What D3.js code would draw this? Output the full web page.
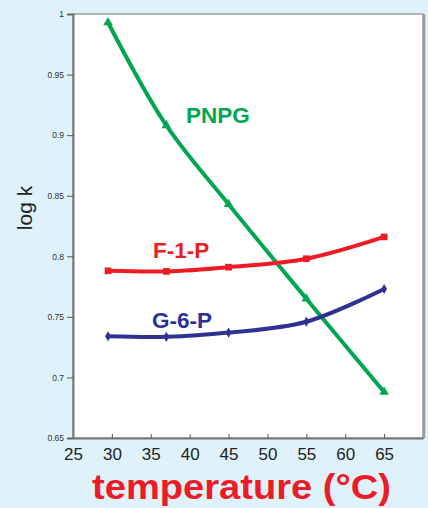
<!DOCTYPE html>
<html>
<head>
<meta charset="utf-8">
<script src="https://cdn.jsdelivr.net/npm/d3@7"></script>
<style>
  body { margin: 0; background: #dff1fa; }
  svg { display: block; font-family: "Liberation Sans", Arial, sans-serif; }
</style>
</head>
<body>
<div id="chart"></div>
<script>
// temperatures and log k values
var temps = [29.5, 37, 45, 55, 65];
var pnpg = [0.993, 0.908, 0.843, 0.765, 0.688];
var f1p = [0.788, 0.7875, 0.791, 0.798, 0.816];
var g6p = [0.734, 0.7335, 0.737, 0.746, 0.773];

var xTicks = [25, 30, 35, 40, 45, 50, 55, 60, 65];
var yTicks = [0.65, 0.7, 0.75, 0.8, 0.85, 0.9, 0.95, 1];

var svgWidth = 428;
var svgHeight = 508;

var margin = { top: 14, right: 5, bottom: 70, left: 73 };
var width = svgWidth - margin.left - margin.right;
var height = svgHeight - margin.top - margin.bottom;

var svg = d3.select("#chart")
    .append("svg")
    .attr("width", svgWidth)
    .attr("height", svgHeight);

svg.append("rect")
    .attr("width", svgWidth)
    .attr("height", svgHeight)
    .attr("fill", "#dff1fa");

var g = svg.append("g")
    .attr("transform", `translate(${margin.left}, ${margin.top})`);

var xScale = d3.scaleLinear().domain([25, 70]).range([0, width]);
var yScale = d3.scaleLinear().domain([0.65, 1]).range([height, 0]);

// plot frame
g.append("rect")
    .attr("x", 0)
    .attr("y", 0)
    .attr("width", width)
    .attr("height", height)
    .attr("fill", "#fff")
    .attr("stroke", "#a0a0a0")
    .attr("stroke-width", 1.5);

g.append("line")
    .attr("x1", width + 1).attr("x2", width + 1)
    .attr("y1", 0).attr("y2", height)
    .attr("stroke", "#9a9a9a")
    .attr("stroke-width", 2.5);

// axes
var xAxis = g.append("g")
    .attr("transform", `translate(0, ${height})`)
    .call(d3.axisBottom(xScale).tickValues(xTicks).tickSizeInner(-4).tickSizeOuter(0).tickPadding(10));

xAxis.select(".domain").attr("stroke", "#777").attr("stroke-width", 2);
xAxis.selectAll(".tick line").attr("stroke", "#555");
xAxis.selectAll("text")
    .attr("font-size", 17)
    .attr("fill", "#222")
    .attr("font-family", "Liberation Sans, Arial, sans-serif");

var yAxis = g.append("g")
    .call(d3.axisLeft(yScale).tickValues(yTicks).tickSize(6).tickPadding(3)
        .tickFormat(d => d === 1 ? "1" : d3.format("")(+d.toFixed(2))));

yAxis.select(".domain").attr("stroke", "#777").attr("stroke-width", 2);
yAxis.selectAll(".tick line").attr("stroke", "#555");
yAxis.selectAll("text")
    .attr("font-size", 8.5)
    .attr("fill", "#333")
    .attr("font-family", "Liberation Sans, Arial, sans-serif");

// axis titles
svg.append("text")
    .attr("transform", "translate(32, 208) rotate(-90)")
    .attr("text-anchor", "middle")
    .attr("font-size", 21)
    .attr("fill", "#222")
    .text("log k");

svg.append("text")
    .attr("x", 92)
    .attr("y", 499)
    .attr("font-size", 35)
    .attr("font-weight", "bold")
    .attr("fill", "#ed1c24")
    .attr("textLength", 299)
    .attr("lengthAdjust", "spacingAndGlyphs")
    .text("temperature (°C)");

// series
var series = [
    { name: "PNPG", values: pnpg, color: "#00a651", symbol: d3.symbolTriangle, size: 40, lx: 186, ly: 123 },
    { name: "F-1-P", values: f1p, color: "#ed1c24", symbol: d3.symbolSquare, size: 45, lx: 153, ly: 258 },
    { name: "G-6-P", values: g6p, color: "#2e3192", symbol: d3.symbolDiamond, size: 30, lx: 152, ly: 328 }
];

var line = d3.line()
    .x(d => xScale(d[0]))
    .y(d => yScale(d[1]))
    .curve(d3.curveCatmullRom.alpha(0.5));

series.forEach(function(s) {
    var pts = temps.map((t, i) => [t, s.values[i]]);

    g.append("path")
        .datum(pts)
        .attr("fill", "none")
        .attr("stroke", s.color)
        .attr("stroke-width", 4)
        .attr("d", line);

    g.selectAll(null)
        .data(pts)
        .enter()
        .append("path")
        .attr("transform", d => `translate(${xScale(d[0])}, ${yScale(d[1])})`)
        .attr("d", d3.symbol().type(s.symbol).size(s.size))
        .attr("fill", s.color);

    svg.append("text")
        .attr("x", s.lx)
        .attr("y", s.ly)
        .attr("font-size", 22.5)
        .attr("font-weight", "bold")
        .attr("fill", s.color)
        .text(s.name);
});
</script>
</body>
</html>
